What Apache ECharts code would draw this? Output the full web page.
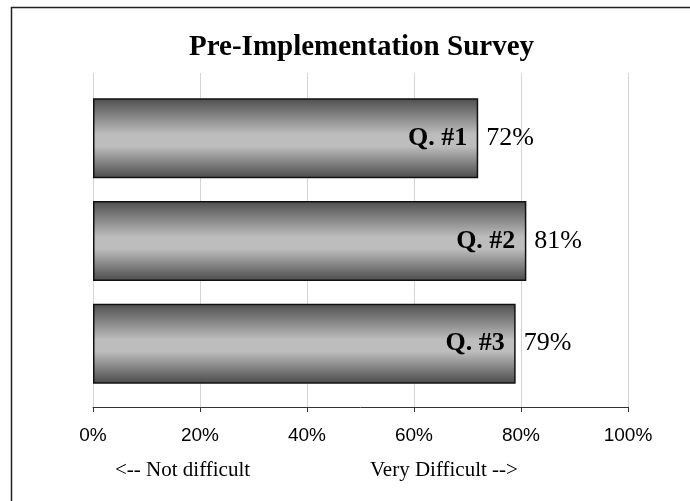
<!DOCTYPE html>
<html><head><meta charset="utf-8">
<script src="https://cdn.jsdelivr.net/npm/echarts@6/dist/echarts.min.js"></script>
<style>html,body{margin:0;padding:0;background:#fff}#c{width:690px;height:501px}</style>
</head><body><div id="c"></div>
<script>
const categories = ['Q. #1', 'Q. #2', 'Q. #3'];
const values = [72, 81, 79];
const tickValues = [0, 20, 40, 60, 80, 100];
const titleText = 'Pre-Implementation Survey';
const leftNote = '<-- Not difficult';
const rightNote = 'Very Difficult -->';

const chart = echarts.init(document.getElementById('c'), null, {renderer: 'canvas'});
const barGrad = new echarts.graphic.LinearGradient(0, 0, 0, 1, [
  {offset: 0, color: '#4e4e4e'},
  {offset: 0.45, color: '#bdbdbd'},
  {offset: 0.6, color: '#bdbdbd'},
  {offset: 1, color: '#4a4a4a'}
]);
const serif = '"Liberation Serif", "Times New Roman", serif';
chart.setOption({
  animation: false,
  backgroundColor: '#fff',
  title: {
    text: titleText, left: 184, top: 28,
    textStyle: {fontFamily: serif, fontWeight: 'bold', fontSize: 29, color: '#000'}
  },
  grid: [
    {left: 93, right: 62, top: 73, bottom: 94},
    {left: 93, right: 62, top: 87, bottom: 106}
  ],
  xAxis: [
    {gridIndex: 0, type: 'value', min: 0, max: 100, interval: 20,
     axisLine: {show: true, lineStyle: {color: '#333', width: 1}},
     axisTick: {show: true, length: 5, lineStyle: {color: '#333'}},
     splitLine: {show: true, lineStyle: {color: '#d4d4d4', width: 1}},
     axisLabel: {margin: 19, fontFamily: '"Liberation Sans", Arial, sans-serif', fontSize: 19, color: '#000',
       formatter: v => tickValues.includes(v) ? v + '%' : ''}},
    {gridIndex: 1, type: 'value', min: 0, max: 100, show: false}
  ],
  yAxis: [
    {gridIndex: 0, type: 'category', data: categories, inverse: true, show: false},
    {gridIndex: 1, type: 'category', data: categories, inverse: true, show: false}
  ],
  series: [
    {type: 'bar', xAxisIndex: 1, yAxisIndex: 1, data: values, barWidth: 80,
     itemStyle: {color: barGrad, borderColor: '#111', borderWidth: 1.5},
     label: {show: true, position: 'insideRight', distance: 11, formatter: p => categories[p.dataIndex],
       fontFamily: serif, fontWeight: 'bold', fontSize: 26, color: '#000'}},
    {type: 'bar', xAxisIndex: 1, yAxisIndex: 1, data: values, barWidth: 80, barGap: '-100%',
     itemStyle: {color: 'rgba(0,0,0,0)'},
     label: {show: true, position: 'right', distance: 8, formatter: p => p.value + '%',
       fontFamily: serif, fontSize: 26, color: '#000'}}
  ],
  graphic: [
    {type: 'polyline', shape: {points: [[11.5, 501], [11.5, 7.5], [690, 7.5]]},
     style: {stroke: '#222', lineWidth: 1.5, fill: null}},
    {type: 'text', left: 115, top: 460, style: {text: leftNote, font: '21px ' + serif, fill: '#000'}},
    {type: 'text', left: 370, top: 460, style: {text: rightNote, font: '21px ' + serif, fill: '#000'}}
  ]
});
</script></body></html>
